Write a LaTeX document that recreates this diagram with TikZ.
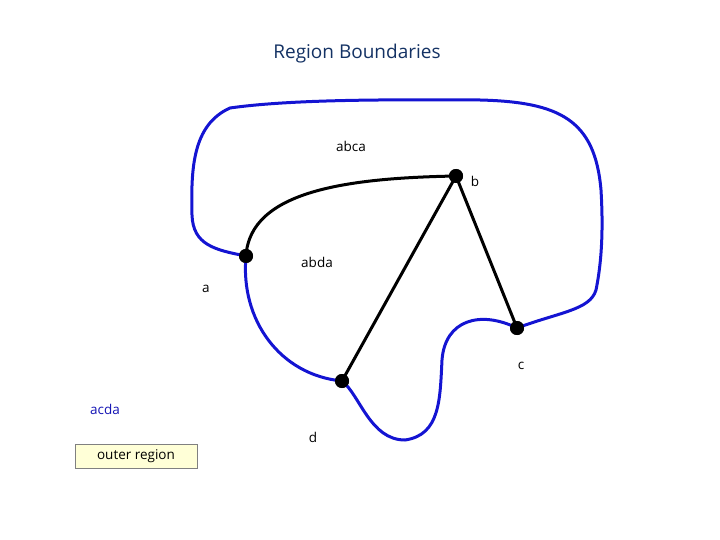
\documentclass[tikz,border=0pt]{standalone}
\usepackage{fontspec}
\setmainfont{Open Sans}
\begin{document}
\begin{tikzpicture}[x=1pt,y=-1pt,
  vert/.style={circle,fill=black,inner sep=0pt,minimum size=14pt},
  lbl/.style={font=\fontsize{13.5}{16}\selectfont},
  bnd/.style={draw={rgb,255:red,20;green,20;blue,210},line width=3pt,line cap=round},
  edg/.style={draw=black,line width=3pt,line cap=round}]
\useasboundingbox (0,0) rectangle (720,540);
\node[vert] (a) at (246,256) {};
\node[vert] (b) at (456,176) {};
\node[vert] (c) at (517,328) {};
\node[vert] (d) at (342,381) {};
\draw[bnd] (a.center) .. controls (215,250) and (193,245) .. (192,215)
  .. controls (191,170) and (192,125) .. (230,108)
  .. controls (300,98) and (420,100) .. (480,100)
  .. controls (560,102) and (595,120) .. (601,190)
  .. controls (604,240) and (600,270) .. (596,290)
  .. controls (590,310) and (560,312) .. (c.center);
\draw[bnd] (a.center) .. controls (240,320) and (280,375) .. (d.center);
\draw[bnd] (d.center) .. controls (360,395) and (370,440) .. (405,440)
  .. controls (440,435) and (440,400) .. (442,360)
  .. controls (445,320) and (480,310) .. (c.center);
\draw[edg] (a.center) .. controls (250,190) and (350,178) .. (b.center);
\draw[edg] (b.center) -- (d.center);
\draw[edg] (b.center) -- (c.center);
\node[vert] at (a) {};\node[vert] at (b) {};\node[vert] at (c) {};\node[vert] at (d) {};
\node[font=\fontsize{19}{23}\selectfont,text={rgb,255:red,20;green,50;blue,100}] (t) at (357,54) {Region Boundaries};
\node[lbl] (l1) at (351,146) {abca};
\node[lbl] (l2) at (475,181) {b};
\node[lbl] (l3) at (317,262) {abda};
\node[lbl] (l4) at (206,289) {a};
\node[lbl] (l5) at (521,366) {c};
\node[lbl] (l6) at (313,437) {d};
\node[lbl,text={rgb,255:red,20;green,20;blue,180}] (l7) at (105,409) {acda};
\node[lbl,draw=gray,fill={rgb,255:red,255;green,255;blue,215},minimum width=122pt,minimum height=24pt] (o) at (136,456) {outer region};
\end{tikzpicture}
\end{document}
